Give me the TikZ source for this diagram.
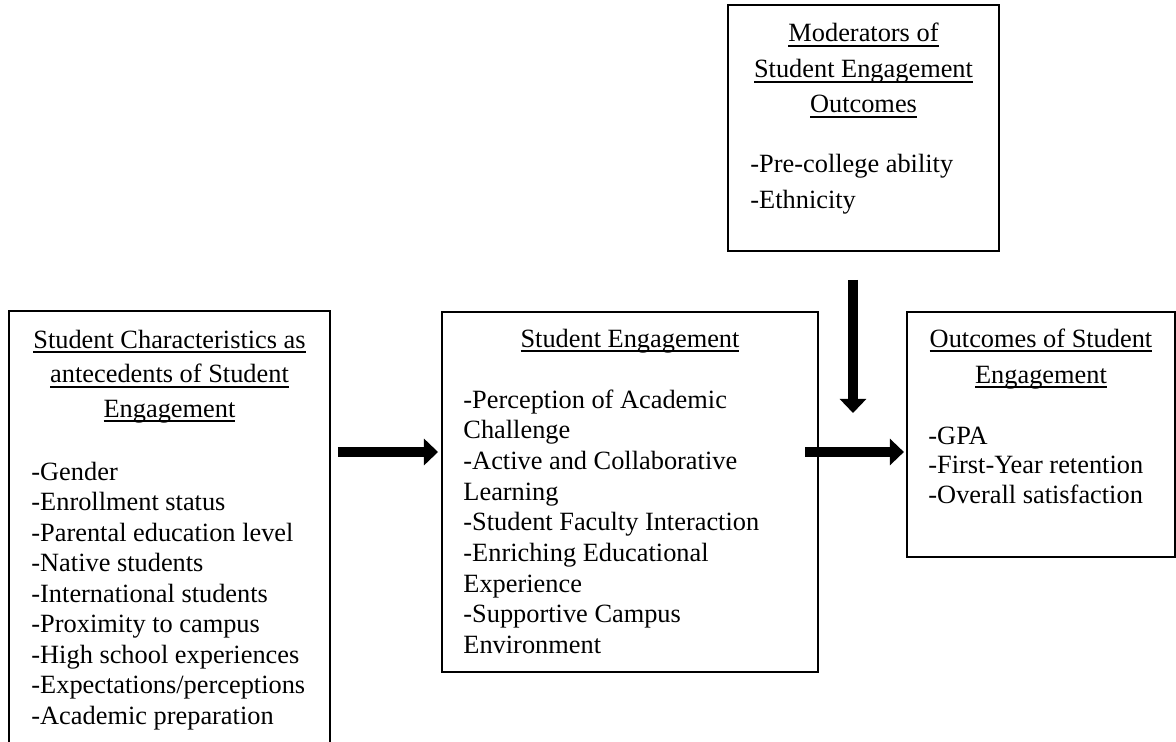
\documentclass[tikz,border=0pt]{standalone}
\usepackage{fontspec}
\setmainfont{Liberation Serif}
\usepackage{tikz}
\usetikzlibrary{arrows.meta,positioning,calc}

% Underline at a fixed depth, running through descenders.
\newlength\hdwidth
\newcommand{\hdline}[1]{\settowidth{\hdwidth}{#1}\rlap{\rule[-2.3pt]{\hdwidth}{0.8pt}}#1}

\tikzset{
  panel/.style={draw=black,line width=0.9pt,inner sep=0pt,outer sep=0pt,anchor=north west},
  headline/.style={anchor=base,inner sep=0pt,font=\fontsize{12}{14}\selectfont},
  itemline/.style={anchor=base west,inner sep=0pt,font=\fontsize{12}{14}\selectfont},
  blockarrow/.style={line width=4.9pt,-{Triangle[width=11.8pt,length=6.4pt]}}
}

\begin{document}
\begin{tikzpicture}[x=0.16mm,y=-0.16mm]
  \def\px{0.16mm}
  \def\lead{30.5}
  \clip (0,0) rectangle (1176,742);

  % Boxes.
  \node[panel,minimum width=321*\px,minimum height=470*\px] (chars) at (9,311) {};
  \node[panel,minimum width=376*\px,minimum height=360*\px] (engage) at (442,312) {};
  \node[panel,minimum width=271*\px,minimum height=246*\px] (moder) at (728,5) {};
  \node[panel,minimum width=268*\px,minimum height=245*\px] (outcome) at (907,312) {};

  % Headings, one node per line.
  \foreach \lab [count=\i] in {Student Characteristics as,antecedents of Student,Engagement}
    \node[headline] (charshd\i) at (169.5,{348+34.6*(\i-1)}) {\hdline{\lab}};
  \node[headline] (engagehd) at (630,347) {\hdline{Student Engagement}};
  \foreach \lab [count=\i] in {Moderators of,Student Engagement,Outcomes}
    \node[headline] (moderhd\i) at (863.5,{42+35.5*(\i-1)}) {\hdline{\lab}};
  \foreach \lab [count=\i] in {Outcomes of Student,Engagement}
    \node[headline] (outcomehd\i) at (1041,{347+36*(\i-1)}) {\hdline{\lab}};

  % Item lists.
  \foreach \lab [count=\i] in {-Gender,-Enrollment status,-Parental education level,
    -Native students,-International students,-Proximity to campus,
    -High school experiences,-Expectations/perceptions,-Academic preparation}
    \node[itemline] (charsit\i) at (31,{480+\lead*(\i-1)}) {\lab};
  \foreach \lab [count=\i] in {-Perception of Academic,Challenge,-Active and Collaborative,
    Learning,-Student Faculty Interaction,-Enriching Educational,Experience,
    -Supportive Campus,Environment}
    \node[itemline] (engageit\i) at (463,{408+30.7*(\i-1)}) {\lab};
  \foreach \lab [count=\i] in {-Pre-college ability,-Ethnicity}
    \node[itemline] (moderit\i) at (750,{173+35*(\i-1)}) {\lab};
  \foreach \lab [count=\i] in {-GPA,-First-Year retention,-Overall satisfaction}
    \node[itemline] (outcomeit\i) at (928,{444+29.5*(\i-1)}) {\lab};

  % Arrows.
  \coordinate (flow) at (0,452);
  \coordinate (drop) at (853,413);
  \draw[blockarrow,shorten <=3.6pt,shorten >=1.8pt] (chars.east |- flow) -- (engage.west |- flow);
  \draw[blockarrow,shorten <=-5.9pt,shorten >=1.4pt] (engage.east |- flow) -- (outcome.west |- flow);
  \draw[blockarrow,shorten <=13.2pt] (moder.south -| drop) -- (drop);
\end{tikzpicture}
\end{document}
